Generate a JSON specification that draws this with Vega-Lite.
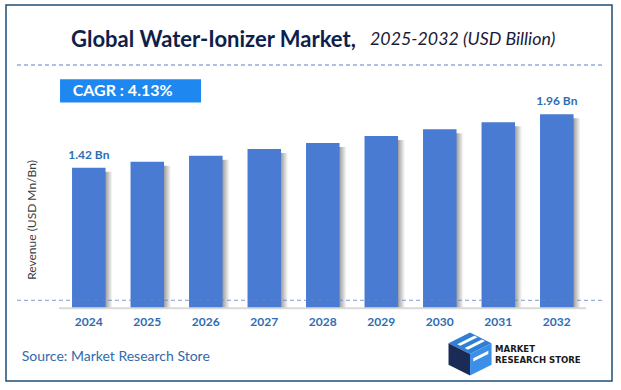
{
  "$schema": "https://vega.github.io/schema/vega-lite/v6.json",
  "width": 606,
  "height": 376,
  "autosize": "none",
  "padding": {"left": 6, "top": 5, "right": 9, "bottom": 9},
  "background": "white",
  "config": {"view": {"stroke": "#1f4e79", "strokeWidth": 1.5}},
  "data": {
    "values": [
      {"year": "2024", "value": 1.42, "label": "1.42 Bn"},
      {"year": "2025", "value": 1.48},
      {"year": "2026", "value": 1.54},
      {"year": "2027", "value": 1.61},
      {"year": "2028", "value": 1.67},
      {"year": "2029", "value": 1.74},
      {"year": "2030", "value": 1.81},
      {"year": "2031", "value": 1.88},
      {"year": "2032", "value": 1.96, "label": "1.96 Bn"}
    ]
  },
  "layer": [
    {
      "mark": {"type": "bar", "xOffset": 7, "yOffset": 4,
        "color": {"gradient": "linear", "x1": 0, "x2": 1, "y1": 0, "y2": 0,
          "stops": [{"offset": 0, "color": "#8a8a8a"}, {"offset": 0.78, "color": "#9a9a9a"}, {"offset": 1, "color": "#ffffff"}]}},
      "encoding": {
        "x": {"field": "year", "type": "nominal",
          "scale": {"paddingInner": 0.427, "paddingOuter": 0.893, "align": 0.632},
          "axis": {"title": null, "domain": false, "ticks": false, "tickSize": 0, "labelPadding": 8, "labelAngle": 0,
            "labelFont": "Lato", "labelFontSize": 12, "labelFontWeight": "bold", "labelColor": "#2e6db4", "offset": -72.7, "grid": false}},
        "y": {"field": "value", "type": "quantitative", "scale": {"domain": [-0.7345, 3.064], "nice": false, "zero": false}, "axis": null},
        "y2": {"datum": 0}
      }
    },
    {
      "mark": {"type": "bar", "color": "#4a7bd3"},
      "encoding": {
        "x": {"field": "year", "type": "nominal"},
        "y": {"field": "value", "type": "quantitative", "axis": null},
        "y2": {"datum": 0}
      }
    },
    {
      "transform": [{"filter": "isValid(datum.label)"}],
      "mark": {"type": "text", "font": "Lato", "fontSize": 12, "fontWeight": "bold", "color": "#2e6db4", "baseline": "middle", "dy": -13},
      "encoding": {
        "x": {"field": "year", "type": "nominal"},
        "y": {"field": "value", "type": "quantitative", "axis": null},
        "text": {"field": "label"}
      }
    },
    {
      "data": {"values": [{}]},
      "mark": {"type": "rule", "color": "#d9d9d9", "strokeWidth": 2},
      "encoding": {
        "x": {"datum": "2024", "bandPosition": -0.388},
        "x2": {"datum": "2032", "bandPosition": 1.373},
        "y": {"datum": 0, "axis": null}
      }
    },
    {
      "data": {"values": [{}]},
      "mark": {"type": "rule", "color": "#5b83c9", "strokeWidth": 1, "strokeDash": [4, 3], "opacity": 0.8},
      "encoding": {
        "x": {"datum": "2024", "bandPosition": -1.642},
        "x2": {"datum": "2032", "bandPosition": 1.872},
        "y": {"datum": 0.0808, "axis": null}
      }
    },
    {
      "data": {"values": [{}]},
      "mark": {"type": "rule", "color": "#5b83c9", "strokeWidth": 1, "strokeDash": [4, 3]},
      "encoding": {
        "x": {"datum": "2024", "bandPosition": -1.642},
        "x2": {"datum": "2032", "bandPosition": 1.9},
        "y": {"datum": 2.458, "axis": null}
      }
    },
    {
      "data": {"values": [{}]},
      "mark": {"type": "rect", "color": "#1e88f0"},
      "encoding": {
        "x": {"datum": "2024", "bandPosition": -0.358},
        "x2": {"datum": "2026", "bandPosition": 0.358},
        "y": {"datum": 2.314, "axis": null},
        "y2": {"datum": 2.079}
      }
    },
    {
      "data": {"values": [{}]},
      "mark": {"type": "text", "text": "CAGR :  4.13%", "align": "left", "baseline": "middle", "font": "Lato", "fontSize": 16, "fontWeight": "bold", "color": "white"},
      "encoding": {
        "x": {"datum": "2024", "bandPosition": 0.02},
        "y": {"datum": 2.2, "axis": null}
      }
    },
    {
      "data": {"values": [{}]},
      "mark": {"type": "text", "text": "Global Water-Ionizer Market,", "align": "left", "baseline": "middle", "font": "Lato", "fontSize": 22, "fontWeight": "bold", "color": "#0f1e4a"},
      "encoding": {
        "x": {"datum": "2024", "bandPosition": -0.03},
        "y": {"datum": 2.711, "axis": null}
      }
    },
    {
      "data": {"values": [{}]},
      "mark": {"type": "text", "text": "2025-2032 (USD Billion)", "align": "left", "baseline": "middle", "font": "Lato", "fontSize": 17.8, "fontStyle": "italic", "color": "#1a1a3a"},
      "encoding": {
        "x": {"datum": "2029", "bandPosition": 0.164},
        "y": {"datum": 2.711, "axis": null}
      }
    },
    {
      "data": {"values": [{}]},
      "mark": {"type": "text", "text": "Revenue (USD Mn/Bn)", "angle": 270, "align": "center", "baseline": "middle", "font": "Lato", "fontSize": 12, "color": "#404040"},
      "encoding": {
        "x": {"datum": "2024", "bandPosition": -1.194},
        "y": {"datum": 0.892, "axis": null}
      }
    },
    {
      "data": {"values": [{}]},
      "mark": {"type": "text", "text": "Source: Market Research Store", "align": "left", "baseline": "middle", "font": "Lato", "fontSize": 14, "color": "#3469a8"},
      "encoding": {
        "x": {"datum": "2024", "bandPosition": -1.5},
        "y": {"datum": -0.492, "axis": null}
      }
    },
    {
      "data": {"values": [{}]},
      "mark": {"type": "text", "text": "MARKET", "align": "left", "baseline": "middle", "font": "DejaVu Sans Condensed", "fontSize": 9.5, "fontWeight": "bold", "color": "#1a1a1a"},
      "encoding": {
        "x": {"datum": "2032", "bandPosition": -1.343},
        "y": {"datum": -0.411, "axis": null}
      }
    },
    {
      "data": {"values": [{}]},
      "mark": {"type": "text", "text": "RESEARCH STORE", "align": "left", "baseline": "middle", "font": "DejaVu Sans Condensed", "fontSize": 9.5, "fontWeight": "bold", "color": "#1a1a1a"},
      "encoding": {
        "x": {"datum": "2032", "bandPosition": -1.343},
        "y": {"datum": -0.527, "axis": null}
      }
    },
    {
      "data": {"values": [{}]},
      "mark": {"type": "point", "filled": true, "opacity": 1, "size": 1850, "color": "#2f7fd4", "shape": "M0,-1 L1,-0.5 L0,0 L-1,-0.5 Z"},
      "encoding": {
        "x": {"datum": "2031", "bandPosition": -0.343},
        "y": {"datum": -0.462, "axis": null}
      }
    },
    {
      "data": {"values": [{}]},
      "mark": {"type": "point", "filled": true, "opacity": 1, "size": 1850, "color": "#1a2c56", "shape": "M-1,-0.5 L0,0 L0,1 L-1,0.5 Z"},
      "encoding": {
        "x": {"datum": "2031", "bandPosition": -0.343},
        "y": {"datum": -0.462, "axis": null}
      }
    },
    {
      "data": {"values": [{}]},
      "mark": {"type": "point", "filled": true, "opacity": 1, "size": 1850, "color": "#3b8fe6", "shape": "M0,0 L1,-0.5 L1,0.5 L0,1 Z"},
      "encoding": {
        "x": {"datum": "2031", "bandPosition": -0.343},
        "y": {"datum": -0.462, "axis": null}
      }
    },
    {
      "data": {"values": [{}]},
      "mark": {"type": "point", "filled": true, "opacity": 1, "size": 1850, "color": "white", "shape": "M-0.6,-0.45 L0.2,-0.85 L0.35,-0.78 L-0.45,-0.38 Z M-0.25,-0.28 L0.55,-0.68 L0.7,-0.6 L-0.1,-0.2 Z M0.15,0.2 L0.85,-0.15 L0.85,0.0 L0.15,0.35 Z"},
      "encoding": {
        "x": {"datum": "2031", "bandPosition": -0.343},
        "y": {"datum": -0.462, "axis": null}
      }
    }
  ]
}
